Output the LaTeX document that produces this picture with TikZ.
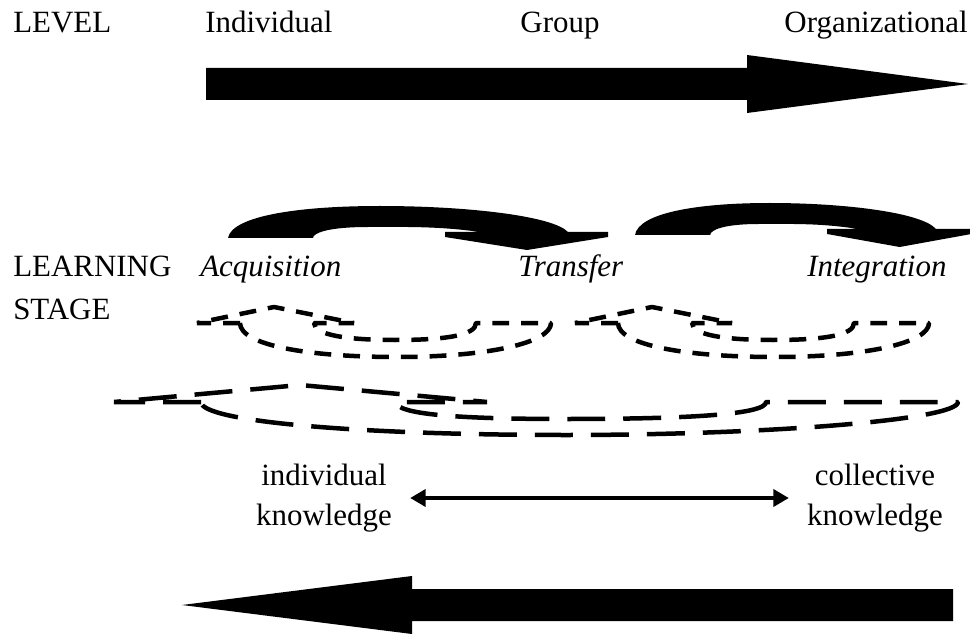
\documentclass[tikz,border=0pt]{standalone}
\usepackage{fontspec}
\setmainfont{Liberation Serif}
\usetikzlibrary{arrows.meta}

\begin{document}
\begin{tikzpicture}[
  x=0.025cm, y=-0.025cm,
  font=\fontsize{22}{28.45}\selectfont,
  lbl/.style={inner sep=0pt},
  stagelbl/.style={inner sep=0pt, font=\fontsize{22}{28.45}\selectfont\itshape},
  know/.style={align=center, inner ysep=0pt, inner xsep=0.45cm},
  dbl/.style={{Triangle[length=11pt,width=12pt]}-{Triangle[length=11pt,width=12pt]}, line width=2.8pt},
  smalldash/.style={line width=3.2pt, line join=bevel, dash pattern=on 12pt off 8.5pt},
  bigdash/.style={line width=3.2pt, line join=bevel, dash pattern=on 27pt off 12.8pt},
  bent arrow/.pic={
    \fill (0,0) .. controls (4,-22) and (70,-32) .. (152,-32)
          .. controls (240,-32) and (325,-22) .. (340,-6)
          -- (380,-6) -- (380,-1) -- (299,12) -- (217,-1) -- (217,-6) -- (252,-6)
          .. controls (210,-12) and (175,-11) .. (140,-11)
          .. controls (100,-11) and (85,-5) .. (85,0) -- cycle;
  },
  curl arrow/.pic={
    \draw[smalldash] (43,0) -- (0,0) -- (77,-16) -- (157,0) -- (117,0)
          .. controls (117,12) and (150,17) .. (198,17)
          .. controls (250,17) and (279,12) .. (279,0)
          -- (354,0) .. controls (354,20) and (290,34) .. (200,34)
          .. controls (110,34) and (43,22) .. (43,0) -- cycle;
  }
]
  \useasboundingbox (0,0) rectangle (970,635);

  \node[lbl, anchor=base west] (level)    at (13,33)  {LEVEL};
  \node[lbl, anchor=base west] (indivlvl) at (205,33) {Individual};
  \node[lbl, anchor=base]      (grouplvl) at (560,33) {Group};
  \node[lbl, anchor=base east] (orglvl)   at (968,33) {Organizational};

  \fill (206,68) -- (747,68) -- (747,55) -- (968,84) -- (747,113) -- (747,100) -- (206,100) -- cycle;

  \pic at (228,238) {bent arrow};
  \pic[xscale=0.885] at (635,235) {bent arrow};

  \node[lbl, anchor=base west] (learning) at (13,277) {LEARNING};
  \node[lbl, anchor=base west] (stage)    at (13,319) {STAGE};
  \node[stagelbl, anchor=base west] (acq)   at (200,277) {Acquisition};
  \node[stagelbl, anchor=base west] (trans) at (518,277) {Transfer};
  \node[stagelbl, anchor=base west] (integ) at (807,277) {Integration};

  \pic at (197,323) {curl arrow};
  \pic at (575,323) {curl arrow};

  \begin{scope}[shift={(114,402)}]
    \draw[bigdash] (87,0) -- (0,0) -- (186,-17) -- (373,0) -- (282,0)
          .. controls (282,12) and (340,17) .. (452,17)
          .. controls (580,17) and (652,12) .. (652,0)
          -- (844,0) .. controls (844,18) and (650,33) .. (452,33)
          .. controls (250,33) and (87,20) .. (87,0) -- cycle;
  \end{scope}

  \node[know] (indk)  at (324,498) {individual\\knowledge};
  \node[know] (collk) at (875,498) {collective\\knowledge};
  \draw[dbl] (indk) -- (collk);

  \fill (953,589) -- (412,589) -- (412,576) -- (182,605) -- (412,634) -- (412,621) -- (953,621) -- cycle;
\end{tikzpicture}
\end{document}
